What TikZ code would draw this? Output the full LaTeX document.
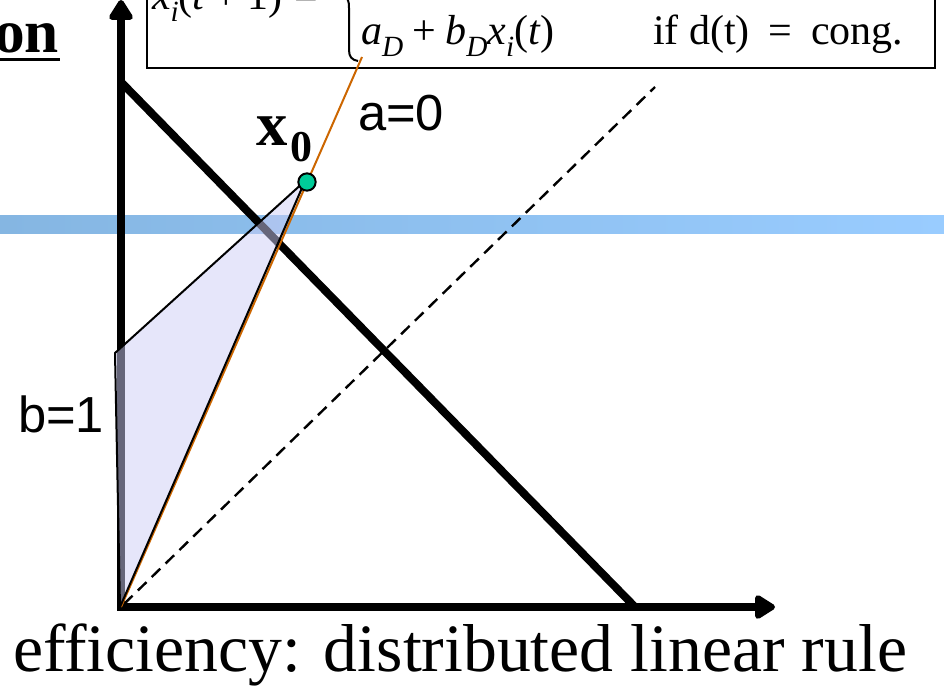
\documentclass[tikz,border=0pt]{standalone}
\usepackage{fontspec}
\setmainfont{Liberation Serif}
\newfontfamily\arialfont{Liberation Sans}
\usetikzlibrary{arrows.meta}
\definecolor{bandL}{RGB}{133,182,226}
\definecolor{bandR}{RGB}{153,204,255}
\definecolor{orangeline}{RGB}{204,102,0}
\definecolor{dotgreen}{RGB}{0,204,153}
\definecolor{lavfill}{RGB}{205,205,245}
\newcommand\mysb[2][22]{\raisebox{-0.28em}{\fontsize{#1}{#1}\selectfont #2}}
\newcommand\mspace{\hspace{0.22em}}
\begin{document}
\begin{tikzpicture}[x=0.75pt,y=-0.75pt,
  axisline/.style={line width=6pt,line join=miter},
  thickline/.style={line width=6pt},
  dashline/.style={line width=1.8pt,dash pattern=on 9pt off 5.5pt},
  lbl/.style={inner sep=0pt,outer sep=0pt},
  boxtext/.style={lbl,font=\fontsize{31.5}{31.5}\selectfont},
  sanslbl/.style={lbl,font=\arialfont\fontsize{38}{38}\selectfont}]
\clip (0,0) rectangle (944,685);
\useasboundingbox (0,0) rectangle (944,685);
% blue band
\shade[left color=bandL,right color=bandR] (0,215) rectangle (944,233);
% formula box
\draw[line width=2pt] (147,-20) rectangle (935,68);
\draw[line width=1.5pt] (341,-6) .. controls (349,-2) and (349,2) .. (349,8)
  -- (349,50) .. controls (349,57) and (352,60) .. (358,61);
\node[boxtext,anchor=base west] (lhs) at (152,10)
  {\textit{x}\mysb{\textit{i}}(\textit{t}\mspace+\mspace1)\hspace{0.28em}=};
\node[boxtext,anchor=base west] (rhs) at (361,45)
  {\textit{a}\mysb{\textit{D}}\mspace+\mspace\textit{b}\mysb{\textit{D}}\textit{x}\mysb{\textit{i}}(\textit{t})};
\node[boxtext,anchor=base west] (cond) at (653,45) {if d(t)\hspace{0.45em}=\hspace{0.45em}cong.};
% axes
\coordinate (O) at (121,607);
\coordinate (ytop) at (121,0);
\coordinate (xend) at (775,607);
\draw[axisline,{Triangle[length=17pt,width=20pt,round]}-{Triangle[length=17pt,width=20pt,round]}]
  (ytop) -- (O) -- (xend);
% efficiency line
\coordinate (e1) at (121,82);
\coordinate (e2) at (635,607);
\draw[thickline] (e1) -- (e2);
% dashed fairness line
\coordinate (d1) at (124,604);
\coordinate (d2) at (655,87);
\draw[dashline] (d1) -- (d2);
% orange a=0 line
\coordinate (o2) at (362,57);
\draw[orangeline,line width=1.5pt] (O) -- (o2);
% shaded polygon
\coordinate (pA) at (120,607);
\coordinate (pB) at (115,353);
\coordinate (pC) at (305,181);
\filldraw[fill=lavfill,fill opacity=0.5,draw=black,line width=1.5pt,line join=round]
  (pA) -- (pB) -- (pC) -- cycle;
% x0 point
\node[circle,draw=black,fill=dotgreen,line width=1.5pt,minimum size=13pt,inner sep=0pt] (x0) at (307,182) {};
% labels
\node[lbl,anchor=base west,font=\fontsize{47}{47}\selectfont\bfseries] (x0lbl) at (256,145)
  {x\hspace{0.05em}\raisebox{-0.26em}{\fontsize{33}{33}\selectfont 0}};
\node[sanslbl,anchor=base west] (alab) at (358,130) {a=0};
\node[sanslbl,anchor=base west] (blab) at (18,432) {b=1};
\node[lbl,anchor=base east,font=\fontsize{46}{46}\selectfont\bfseries] (on) at (59,53) {on};
\draw[line width=2.2pt] (0,59.5) -- (60,59.5);
\node[lbl,anchor=base west,font=\fontsize{50.8}{50.8}\selectfont] (cap) at (13,671)
  {efficiency: distributed linear rule};
\end{tikzpicture}
\end{document}
